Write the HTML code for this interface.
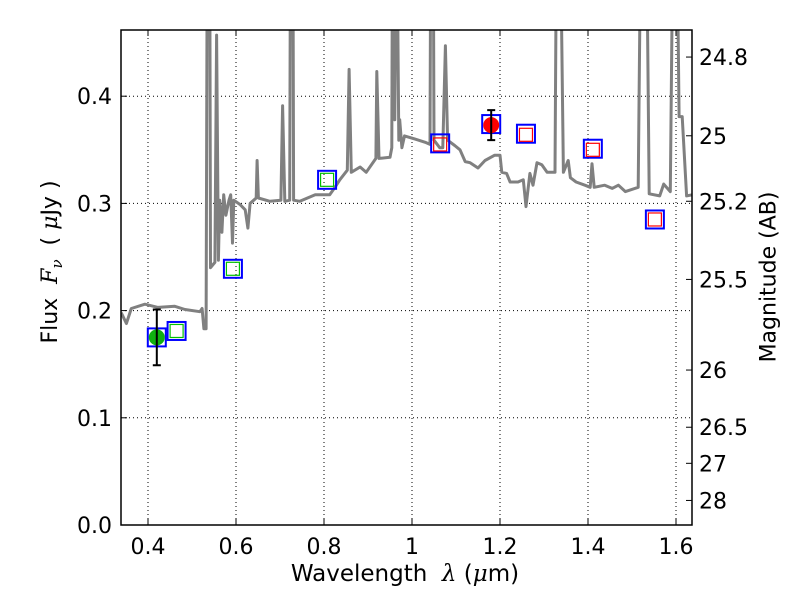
<!DOCTYPE html>
<html><head><meta charset="utf-8"><style>
body{margin:0;background:#fff}
svg{display:block;font-family:"DejaVu Sans","Liberation Sans",sans-serif}
</style></head><body>
<svg id="chart" width="800" height="600" viewBox="0 0 800 600"></svg>
<script>
const wavelengths=[0.339,0.351,0.362,0.393,0.423,0.461,0.484,0.518,0.523,0.527,0.532,0.535,0.540,0.542,0.548,0.552,0.556,0.560,0.563,0.568,0.572,0.577,0.584,0.588,0.592,0.595,0.609,0.621,0.627,0.632,0.646,0.648,0.651,0.677,0.702,0.706,0.711,0.722,0.724,0.729,0.731,0.745,0.780,0.813,0.825,0.836,0.853,0.857,0.862,0.882,0.896,0.918,0.920,0.925,0.950,0.954,0.956,0.961,0.965,0.970,0.972,0.977,0.983,1.007,1.030,1.041,1.043,1.048,1.050,1.063,1.070,1.076,1.081,1.097,1.109,1.121,1.132,1.150,1.166,1.188,1.200,1.204,1.215,1.223,1.241,1.253,1.259,1.268,1.275,1.284,1.295,1.307,1.325,1.329,1.336,1.344,1.355,1.360,1.373,1.393,1.405,1.409,1.414,1.438,1.455,1.469,1.485,1.514,1.521,1.532,1.539,1.563,1.572,1.587,1.594,1.601,1.607,1.614,1.624,1.637];
const spectrumFlux=[0.198,0.188,0.202,0.206,0.203,0.204,0.201,0.199,0.202,0.183,0.183,0.6,0.6,0.240,0.243,0.245,0.457,0.247,0.303,0.273,0.308,0.289,0.303,0.308,0.263,0.303,0.299,0.294,0.277,0.300,0.305,0.340,0.305,0.302,0.303,0.391,0.302,0.303,0.6,0.6,0.303,0.302,0.308,0.308,0.315,0.322,0.331,0.425,0.329,0.334,0.329,0.342,0.423,0.342,0.343,0.352,0.6,0.378,0.6,0.359,0.378,0.352,0.363,0.360,0.357,0.355,0.6,0.6,0.359,0.352,0.352,0.447,0.359,0.354,0.350,0.339,0.338,0.333,0.340,0.345,0.345,0.329,0.328,0.320,0.320,0.322,0.297,0.328,0.317,0.338,0.336,0.329,0.329,0.6,0.6,0.329,0.340,0.324,0.320,0.317,0.315,0.337,0.315,0.317,0.314,0.317,0.311,0.315,0.6,0.6,0.309,0.307,0.318,0.311,0.6,0.6,0.381,0.381,0.307,0.308];
const modelWl=[0.420,0.465,0.593,0.807,1.064,1.180,1.259,1.411,1.552];
const modelFlux=[0.175,0.181,0.239,0.322,0.356,0.374,0.365,0.351,0.285];
const innerWl=[0.465,0.593,0.807,1.064,1.259,1.411,1.552];
const innerFlux=[0.181,0.239,0.322,0.355,0.364,0.350,0.285];
const innerColor=["#00c000","#00c000","#00c000","red","red","red","red"];
const obsWl=[0.420,1.180];
const obsFlux=[0.175,0.373];
const obsErr=[0.026,0.014];
const obsColor=["#10b010","red"];
const xTicks=[0.4,0.6,0.8,1.0,1.2,1.4,1.6];
const xTickLabels=["0.4","0.6","0.8","1","1.2","1.4","1.6"];
const yTicks=[0,0.1,0.2,0.3,0.4];
const yTickLabels=["0.0","0.1","0.2","0.3","0.4"];
const magTicks=[24.8,25,25.2,25.5,26,26.5,27,28];
const magTickLabels=["24.8","25","25.2","25.5","26","26.5","27","28"];

const L=121,R=692,T=30,B=525;
const X=v=>148+(v-0.4)*440;
const Y=v=>525-v*1072;
const NS="http://www.w3.org/2000/svg";
const svg=document.getElementById('chart');
function mk(tag,attrs,parent){const e=document.createElementNS(NS,tag);for(const k in attrs)e.setAttribute(k,attrs[k]);(parent||svg).appendChild(e);return e;}
const defs=mk('defs',{});
const cp=mk('clipPath',{id:'clip'},defs);
mk('rect',{x:L,y:T,width:R-L,height:B-T},cp);

const grid=mk('g',{stroke:'#000','stroke-width':1,'stroke-dasharray':'1,3'});


xTicks.forEach(t=>mk('line',{x1:X(t),x2:X(t),y1:T,y2:B},grid));
yTicks.forEach(t=>{if(t>0)mk('line',{x1:L,x2:R,y1:Y(t),y2:Y(t)},grid);});

const g=mk('g',{'clip-path':'url(#clip)'});
let d=wavelengths.map((w,i)=>(i?'L':'M')+X(w).toFixed(1)+','+Y(spectrumFlux[i]).toFixed(1)).join('');
const sp=mk('path',{d:d,fill:'none',stroke:'#808080','stroke-width':3,'stroke-linejoin':'round'},g);



modelWl.forEach((w,i)=>{
  const r=mk('rect',{x:X(w)-9,y:Y(modelFlux[i])-9,width:18,height:18,fill:'none',stroke:'blue','stroke-width':2},g);
  
  
});
innerWl.forEach((w,i)=>{
  const r=mk('rect',{x:X(w)-6.5,y:Y(innerFlux[i])-6.5,width:13,height:13,fill:'none',stroke:innerColor[i],'stroke-width':1.2},g);
  
  
});
obsWl.forEach((w,i)=>{
  const c=mk('circle',{cx:X(w),cy:Y(obsFlux[i]),r:8,fill:obsColor[i]},g);
  
  
  const x=X(w),y1=Y(obsFlux[i]+obsErr[i]),y2=Y(obsFlux[i]-obsErr[i]);
  const eb=mk('path',{d:`M${x},${y1}L${x},${y2}M${x-4},${y1}L${x+4},${y1}M${x-4},${y2}L${x+4},${y2}`,stroke:'#000','stroke-width':2,fill:'none'},g);
  
  
});

const fr=mk('rect',{x:L,y:T,width:R-L,height:B-T,fill:'none',stroke:'#000','stroke-width':1.5});



const ax=mk('g',{stroke:'#000','stroke-width':1});
xTicks.forEach((t,i)=>{
  mk('line',{x1:X(t),x2:X(t),y1:B,y2:B-6},ax);mk('line',{x1:X(t),x2:X(t),y1:T,y2:T+6},ax);
  const tx=mk('text',{x:X(t),y:554,'text-anchor':'middle','font-size':22,fill:'#000',stroke:'none'});
  tx.textContent=xTickLabels[i];
  
  
});
yTicks.forEach((t,i)=>{
  mk('line',{x1:L,x2:L+6,y1:Y(t),y2:Y(t)},ax);
  const tx=mk('text',{x:112,y:Y(t)+8,'text-anchor':'end','font-size':22,fill:'#000',stroke:'none'});
  tx.textContent=yTickLabels[i];
  
  
});
magTicks.forEach((m,i)=>{
  const y=Y(Math.pow(10,(23.9-m)/2.5));
  mk('line',{x1:R,x2:R-6,y1:y,y2:y},ax);
  const tx=mk('text',{x:699,y:y+8,'text-anchor':'start','font-size':22,fill:'#000',stroke:'none'});
  tx.textContent=magTickLabels[i];
  
  
});
</script>
<div style="position:absolute;left:0;top:0;width:800px;height:600px;pointer-events:none;font-family:'DejaVu Sans','Liberation Sans',sans-serif;font-size:22px">
<div style="position:absolute;left:405px;top:574px;white-space:nowrap;transform:translate(-50%,-50%);font-size:23px">Wavelength&nbsp; <i style="font-family:'DejaVu Serif',serif">λ</i> (<i style="font-family:'DejaVu Serif',serif">μ</i>m)</div>
<div style="position:absolute;left:52px;top:262px;white-space:nowrap;transform:translate(-50%,-50%) rotate(-90deg)">Flux&nbsp; <i style="font-family:'DejaVu Serif',serif">F<sub style="font-size:15px">ν</sub></i>&nbsp; ( <i style="font-family:'DejaVu Serif',serif">μ</i>Jy )</div>
<div style="position:absolute;left:769px;top:277px;white-space:nowrap;transform:translate(-50%,-50%) rotate(-90deg)">Magnitude (AB)</div>
</div>
</body></html>
